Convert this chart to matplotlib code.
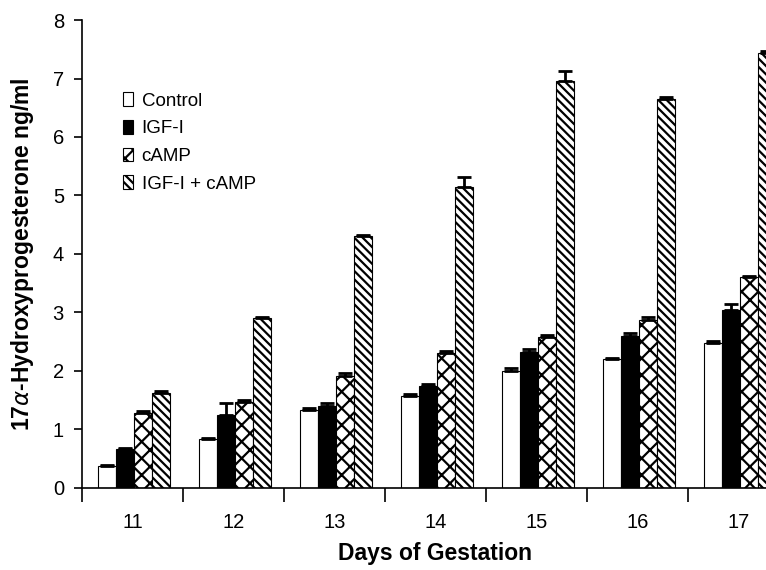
import numpy as np
import matplotlib
matplotlib.use("Agg")
import matplotlib.pyplot as plt

plt.rcParams['font.family'] = ['Liberation Sans', 'DejaVu Sans']
plt.rcParams['hatch.linewidth'] = 1.6

days = ["11", "12", "13", "14", "15", "16", "17"]
series = ["Control", "IGF-I", "cAMP", "IGF-I + cAMP"]

control = [0.38, 0.84, 1.33, 1.58, 2.00, 2.21, 2.48]
control_err = [0.02, 0.01, 0.03, 0.02, 0.05, 0.02, 0.03]
igf = [0.67, 1.25, 1.40, 1.74, 2.33, 2.60, 3.05]
igf_err = [0.02, 0.20, 0.05, 0.04, 0.04, 0.05, 0.10]
camp = [1.28, 1.47, 1.91, 2.31, 2.58, 2.88, 3.60]
camp_err = [0.04, 0.03, 0.05, 0.03, 0.03, 0.04, 0.03]
combo = [1.63, 2.90, 4.30, 5.15, 6.95, 6.65, 7.44]
combo_err = [0.03, 0.03, 0.03, 0.17, 0.18, 0.03, 0.03]

values = [control, igf, camp, combo]
errors = [control_err, igf_err, camp_err, combo_err]
faces = ['white', 'black', 'white', 'white']
hatches = [None, None, 'xx', '\\\\\\\\']

fig = plt.figure(figsize=(7.66, 5.7), dpi=100)
ax = fig.add_axes([0.107, 0.1439, 0.923, 0.821])

x = np.arange(len(days))
w = 0.18
for i in range(4):
    pos = x + (i - 1.5) * w + 0.015
    ax.bar(pos, values[i], width=w, color=faces[i], edgecolor='black',
           hatch=hatches[i], linewidth=0.8, label=series[i], zorder=2)
    ax.errorbar(pos, values[i], yerr=[np.zeros(len(days)), errors[i]],
                fmt='none', ecolor='black', elinewidth=2, capsize=5,
                capthick=2, zorder=3)

ax.set_xlim(-0.5, 6.5)
ax.set_ylim(0, 8)
ax.set_yticks(range(9))
ax.set_xticks(x)
ax.set_xticklabels(days)
ax.set_xticks(np.arange(-0.5, 7, 1), minor=True)
ax.tick_params(axis='x', which='major', length=0, pad=18, labelsize=14.5)
ax.tick_params(axis='x', which='minor', length=10, width=1.2, direction='out')
ax.tick_params(axis='y', length=6, width=1.2, labelsize=14.5, pad=7)
for s in ['top', 'right']:
    ax.spines[s].set_visible(False)
for s in ['left', 'bottom']:
    ax.spines[s].set_linewidth(1.2)

ax.set_ylabel(r"17$\alpha$-Hydroxyprogesterone ng/ml", fontsize=16.5,
              fontweight='bold', labelpad=12)
ax.set_xlabel("Days of Gestation", fontsize=16.5, fontweight='bold',
              labelpad=7)

ax.legend(loc='upper left', bbox_to_anchor=(0.034, 0.882), frameon=False,
          fontsize=13.5, handlelength=0.55, handleheight=0.75,
          handletextpad=0.45, labelspacing=0.55)

fig.savefig("out.png", dpi=100)
